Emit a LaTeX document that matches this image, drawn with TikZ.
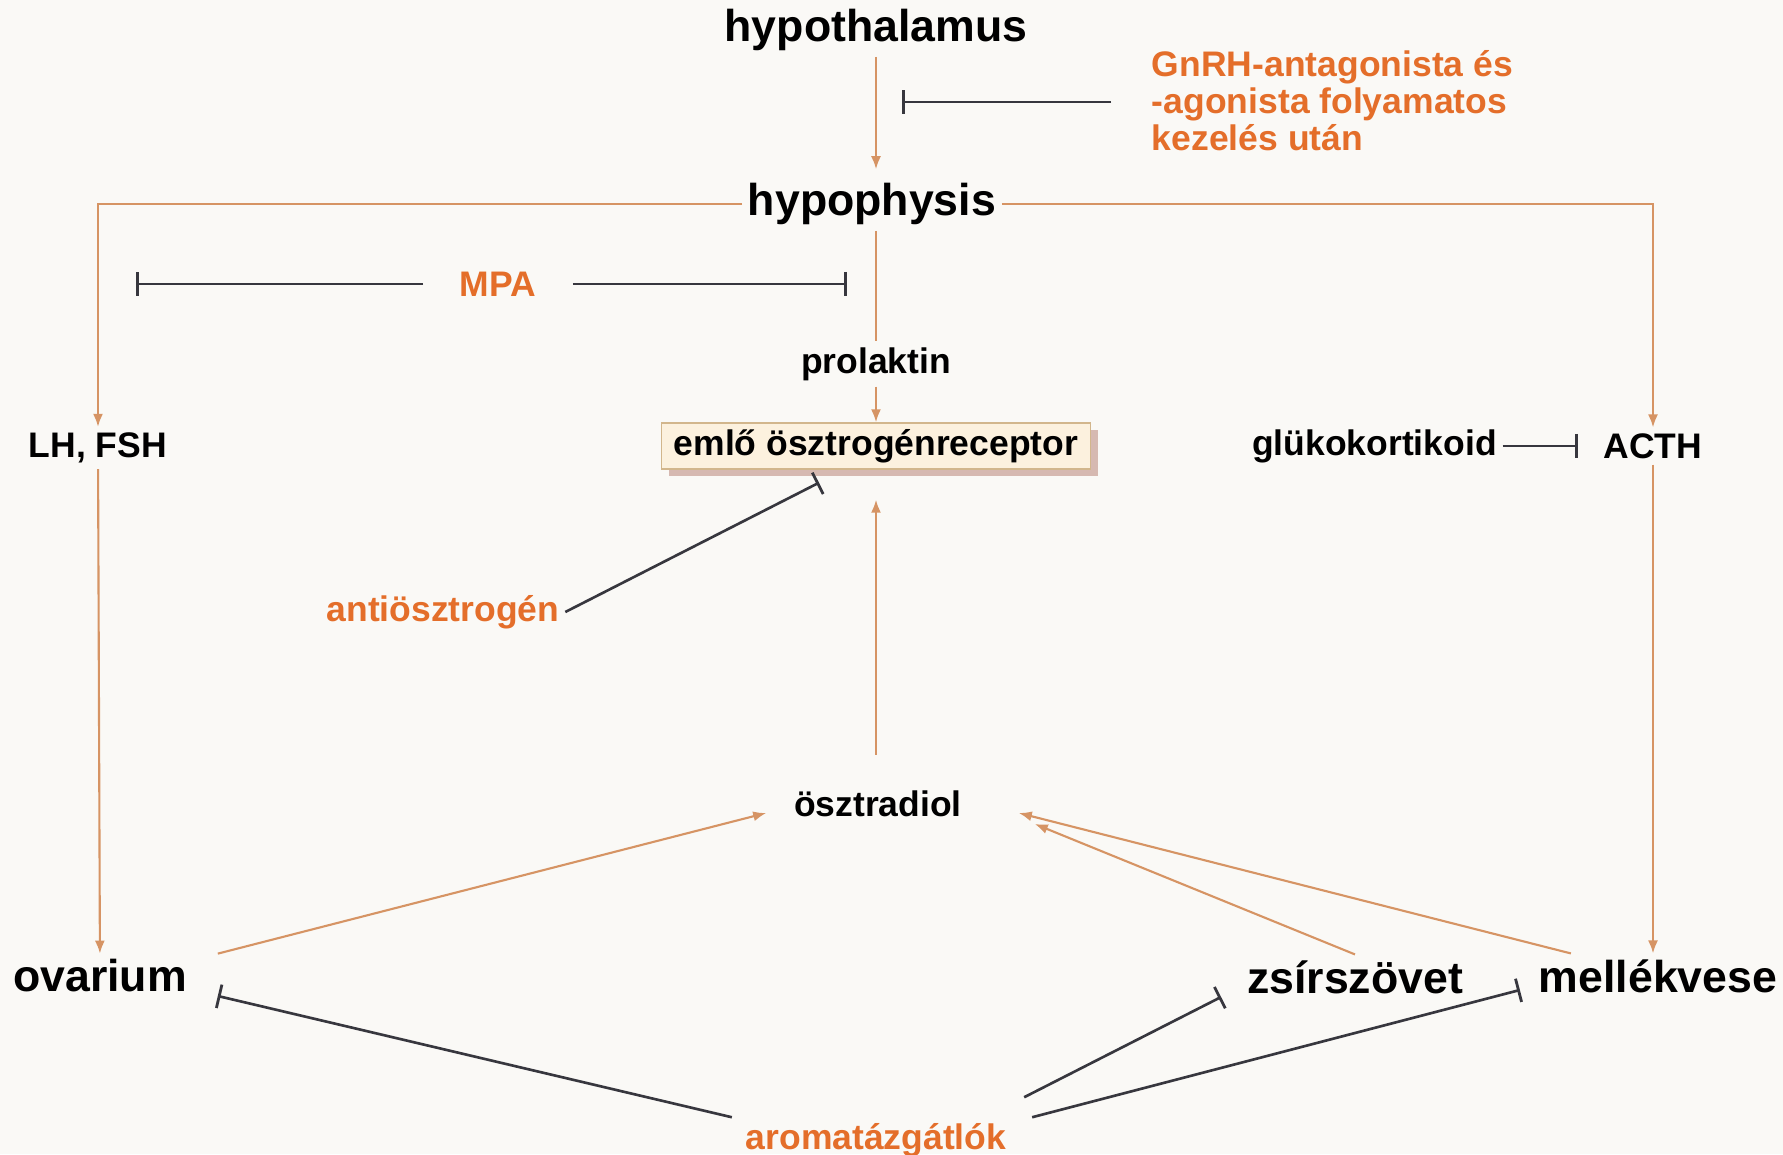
\documentclass[tikz,border=0pt]{standalone}
\usepackage{fontspec}
\setmainfont{Liberation Sans}
\usetikzlibrary{positioning,arrows.meta,calc,shadows}
\definecolor{drugorange}{RGB}{228,110,42}
\definecolor{stimline}{RGB}{214,148,100}
\definecolor{inhline}{RGB}{55,55,62}
\definecolor{paper}{RGB}{250,249,246}
\definecolor{boxfill}{RGB}{252,241,222}
\definecolor{boxedge}{RGB}{210,182,140}
\definecolor{boxshade}{RGB}{205,170,160}

\begin{document}
\begin{tikzpicture}[>=Latex,
    hormone/.style={font=\fontsize{10.1}{12}\selectfont\bfseries,inner sep=1.5pt},
    organ/.style={font=\fontsize{12.7}{15}\selectfont\bfseries,inner sep=1.5pt},
    drug/.style={font=\fontsize{10.1}{10.5}\selectfont\bfseries,text=drugorange,inner sep=1.5pt},
    receptor/.style={hormone,draw=boxedge,fill=boxfill,minimum width=4.29cm,minimum height=0.46cm,
      drop shadow={shadow xshift=0.7mm,shadow yshift=-0.7mm,fill=boxshade,opacity=0.8}},
    stim/.style={-{Latex[length=1.3mm,width=1mm]},stimline,line width=0.6pt},
    inh/.style={-{Bar[width=2.4mm,line width=0.8pt]},inhline,line width=0.75pt}]
    \fill[paper] (0,0) rectangle (17.83,11.54);
    \useasboundingbox (0,0) rectangle (17.83,11.54);
    % axis
    \node[organ] (hyt) at (8.76,11.24) {hypothalamus};
    \node[organ] (hyp) at (8.72,9.50) {hypophysis};
    \node[drug,align=left,anchor=west] (gnrh) at (11.46,10.53) {GnRH-antagonista és\\-agonista folyamatos\\kezelés után};
    \coordinate (gbar) at (9.02,10.52);
    \node[hormone] (prl) at (8.76,7.90) {prolaktin};
    \node[receptor] (rec) at (8.76,7.08) {emlő ösztrogénreceptor};
    \node[hormone] (lhf) at (0.98,7.06) {LH, FSH};
    \node[hormone] (acth) at (16.53,7.08) {ACTH};
    \node[hormone,left=0.95cm of acth] (glu) {glükokortikoid};
    \node[drug,inner xsep=0.36cm] (mpa) at (4.98,8.70) {MPA};
    \coordinate (mpal) at (1.36,8.70);
    \coordinate (mpar) at (8.47,8.70);
    \node[drug] (anti) at (4.43,5.42) {antiösztrogén};
    \node[hormone] (est) at (8.78,3.50) {ösztradiol};
    % peripheral sources
    \node[organ] (ova) at (1.00,1.78) {ovarium};
    \node[organ] (zsi) at (13.55,1.77) {zsírszövet};
    \node[organ] (mel) at (16.58,1.78) {mellékvese};
    \node[drug] (aro) at (8.76,0.14) {aromatázgátlók};

    \draw[stim,shorten >=0.08cm] (hyt) -- (hyp.north-|hyt);
    \draw[inh] ([xshift=-0.35cm]gbar-|gnrh.west) -- (gbar);
    \draw[stim] (hyp.west) -| (lhf.north);
    \draw[stim] (hyp.east) -| (acth.north);
    \draw[stimline,line width=0.6pt] (hyp.south-|hyt) -- (prl.north);
    \draw[stim] (prl) -- (rec);
    \draw[inh] (mpa) -- (mpal);
    \draw[inh] (mpa) -- (mpar);
    \draw[inh,shorten >=0.2cm] (glu) -- (acth);
    \draw[inh] (anti.east) -- ([xshift=-0.57cm,yshift=-0.13cm]rec.south);
    \draw[stim,shorten <=0.3cm,shorten >=0.3cm] (est.north-|rec) -- (rec.south);
    \draw[stim] (lhf) -- (ova);
    \draw[stim] (acth) -- (mel.north-|acth);
    \draw[stim] ([xshift=0.25cm]ova.north east) -- ([xshift=-0.22cm,yshift=-0.09cm]est.west);
    \draw[stim] (zsi.north) -- ([xshift=0.67cm,yshift=-0.2cm]est.east);
    \draw[stim] ([xshift=0.38cm]mel.north west) -- ([xshift=0.51cm,yshift=-0.09cm]est.east);
    \draw[inh] ([xshift=-0.08cm]aro.north west) -- ([xshift=0.25cm,yshift=-0.2cm]ova.east);
    \draw[inh] ([xshift=0.12cm,yshift=0.2cm]aro.north east) -- ([xshift=-0.2cm,yshift=-0.2cm]zsi.west);
    \draw[inh] ([xshift=0.2cm]aro.north east) -- ([xshift=-0.13cm,yshift=-0.14cm]mel.west);
  \end{tikzpicture}
\end{document}
